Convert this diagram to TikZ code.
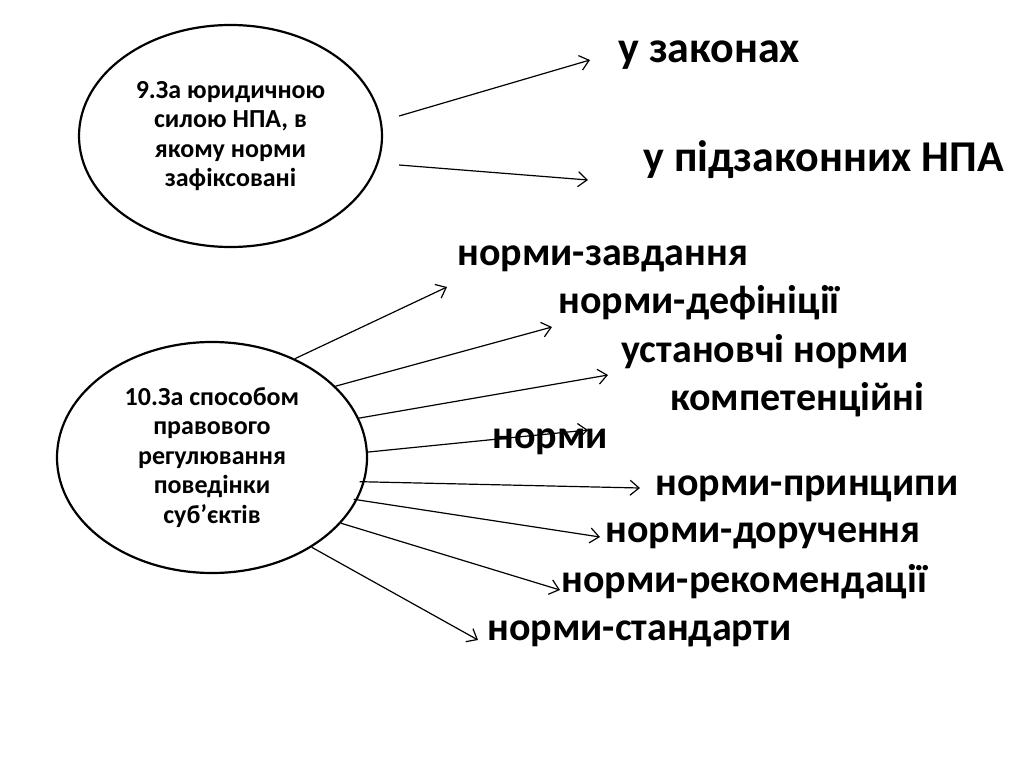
\documentclass[tikz,border=0pt]{standalone}
\usepackage{fontspec}
\setmainfont{Carlito}
\usetikzlibrary{arrows.meta,shapes.geometric,calc}
\tikzset{
  oval/.style={draw, line width=2.2pt, ellipse, inner sep=0pt, align=center,
    font=\fontsize{26}{29.5}\selectfont\bfseries},
  item/.style={anchor=base west, inner sep=0pt, font=\fontsize{40}{44}\selectfont\bfseries},
  bigitem/.style={item, font=\fontsize{44}{48}\selectfont\bfseries},
  link/.style={line width=1.2pt, -{Straight Barb[length=9pt,width=15pt,line width=1.2pt]}},
}
\begin{document}
\begin{tikzpicture}[x=1pt,y=-1pt]
\useasboundingbox (0,0) rectangle (1024,767);
% ellipses
\node[oval, minimum width=303, minimum height=222] (e9) at (230.5,136)
  {9.За юридичною\\силою НПА, в\\якому норми\\зафіксовані};
\node[oval, minimum width=310, minimum height=231] (e10) at (212,457.5)
  {10.За способом\\правового\\регулювання\\поведінки\\суб’єктів};
% right-hand texts
\node[bigitem] (t1) at (618,63) {у законах};
\node[bigitem] (t2) at (643,172) {у підзаконних НПА};
\node[item] (n1) at (457,265) {норми-завдання};
\node[item] (n2) at (558,313) {норми-дефініції};
\node[item] (n3) at (621,362) {установчі норми};
\node[item] (n4a) at (670,410) {компетенційні};
\node[item] (n4b) at (492,448) {норми};
\node[item] (n5) at (655,495) {норми-принципи};
\node[item] (n6) at (605,542) {норми-доручення};
\node[item] (n7) at (561,592) {норми-рекомендації};
\node[item] (n8) at (487,640) {норми-стандарти};
% arrow ends
\coordinate (a1) at (590,60);
\coordinate (a2) at (588,180);
\coordinate (b1) at (447,287);
\coordinate (b2) at (552,327);
\coordinate (b3) at (608,375);
\coordinate (b4) at (588,430);
\coordinate (b5) at (640,488);
\coordinate (b6) at (600,537);
\coordinate (b7) at (560,590);
\coordinate (b8) at (478,640);
% arrows
\draw[link] ($(e9.east)+(16,-20)$) -- (a1);
\draw[link] ($(e9.east)+(16,29)$) -- (a2);
\draw[link] (e10.50) -- (b1);
\draw[link] (e10.30) -- (b2);
\draw[link] (e10.15) -- (b3);
\draw[link] (e10.2) -- (b4);
\draw[link] ($(e10.-9)+(-5,0)$) -- (b5);
\draw[link] ($(e10.-16)+(-4,0)$) -- (b6);
\draw[link] (e10.-27) -- (b7);
\draw[link] (e10.-42) -- (b8);
\end{tikzpicture}
\end{document}
